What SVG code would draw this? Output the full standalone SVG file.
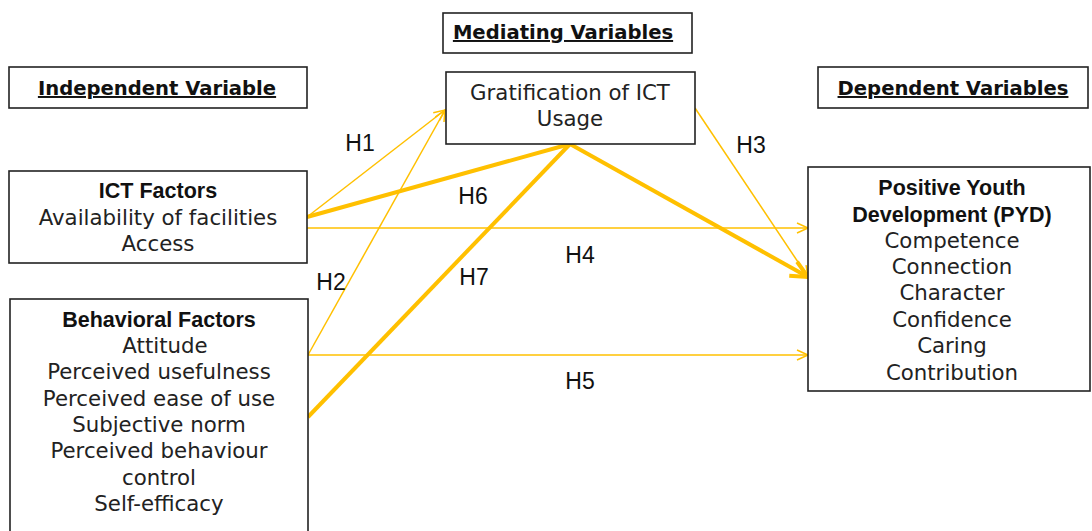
<svg xmlns="http://www.w3.org/2000/svg" width="1092" height="531" viewBox="0 0 1092 531">
<style>
.box{fill:#fff;stroke:#222;stroke-width:1.6}
.t{font-family:"DejaVu Sans",sans-serif;font-size:21.3px;fill:#222;text-anchor:middle}
.b{font-family:"Liberation Sans",Arial,sans-serif;font-weight:bold;font-size:21.5px;fill:#111}
.hd{font-family:"DejaVu Sans",sans-serif;font-size:19.6px;font-weight:bold;text-decoration:underline;fill:#111;text-anchor:middle}
.h{font-family:"Liberation Sans",Arial,sans-serif;font-size:23px;fill:#111;text-anchor:middle}
.thin{stroke:#FFC000;stroke-width:1.5;fill:none}
.thick{stroke:#FFC000;stroke-width:4;fill:none}
</style>
<defs>
<marker id="a" markerUnits="userSpaceOnUse" markerWidth="14" markerHeight="14" refX="12" refY="7" orient="auto" viewBox="0 0 14 14">
<path d="M1,2 L12,7 L1,12" fill="none" stroke="#FFC000" stroke-width="1.5"/>
</marker>
<marker id="A" markerUnits="userSpaceOnUse" markerWidth="22" markerHeight="22" refX="19" refY="11" orient="auto" viewBox="0 0 22 22">
<path d="M2,3 L19,11 L2,19" fill="none" stroke="#FFC000" stroke-width="4"/>
</marker>
</defs>
<g id="hdr-independent"><rect class="box" x="9" y="67" width="298" height="41"/><text class="hd" x="157" y="95">Independent Variable</text></g>
<g id="hdr-mediating"><rect class="box" x="443" y="13" width="249" height="40"/><text class="hd" x="563" y="39">Mediating Variables</text></g>
<g id="hdr-dependent"><rect class="box" x="818" y="67" width="270" height="41"/><text class="hd" x="953" y="95">Dependent Variables</text></g>
<g id="connectors">
<line class="thin" x1="307" y1="217" x2="445" y2="110" marker-end="url(#a)"/>
<line class="thin" x1="308" y1="355" x2="445" y2="110" marker-end="url(#a)"/>
<line class="thin" x1="695" y1="108" x2="808" y2="277" marker-end="url(#a)"/>
<line class="thin" x1="307" y1="228" x2="808" y2="228" marker-end="url(#a)"/>
<line class="thin" x1="308" y1="355" x2="808" y2="355" marker-end="url(#a)"/>
<line class="thick" x1="307" y1="217" x2="570" y2="144"/>
<line class="thick" x1="308" y1="417" x2="570" y2="144"/>
<line class="thick" x1="570" y1="144" x2="808" y2="277" marker-end="url(#A)"/>
</g>
<g id="labels">
<text class="h" x="360" y="151">H1</text>
<text class="h" x="473" y="204">H6</text>
<text class="h" x="751" y="153">H3</text>
<text class="h" x="580" y="263">H4</text>
<text class="h" x="331" y="290">H2</text>
<text class="h" x="474" y="285">H7</text>
<text class="h" x="580" y="389">H5</text>
</g>
<g id="gratification"><rect class="box" x="446" y="72" width="249" height="72"/>
<text class="t" x="570" y="100">Gratification of ICT</text><text class="t" x="570" y="126">Usage</text></g>
<g id="ict"><rect class="box" x="9" y="171" width="298" height="92"/>
<text class="t b" x="158" y="198">ICT Factors</text>
<text class="t" x="158" y="225">Availability of facilities</text>
<text class="t" x="158" y="251">Access</text></g>
<g id="behavioral"><rect class="box" x="10" y="299" width="298" height="240"/>
<text class="t b" x="159" y="327">Behavioral Factors</text>
<text class="t" x="165" y="353">Attitude</text>
<text class="t" x="159" y="379">Perceived usefulness</text>
<text class="t" x="159" y="406">Perceived ease of use</text>
<text class="t" x="159" y="432">Subjective norm</text>
<text class="t" x="159" y="458">Perceived behaviour</text>
<text class="t" x="159" y="485">control</text>
<text class="t" x="159" y="511">Self-efficacy</text></g>
<g id="pyd"><rect class="box" x="808" y="167" width="282" height="224"/>
<text class="t b" x="952" y="195">Positive Youth</text>
<text class="t b" x="952" y="222">Development (PYD)</text>
<text class="t" x="952" y="248">Competence</text>
<text class="t" x="952" y="274">Connection</text>
<text class="t" x="952" y="300">Character</text>
<text class="t" x="952" y="327">Confidence</text>
<text class="t" x="952" y="353">Caring</text>
<text class="t" x="952" y="380">Contribution</text></g>
</svg>
